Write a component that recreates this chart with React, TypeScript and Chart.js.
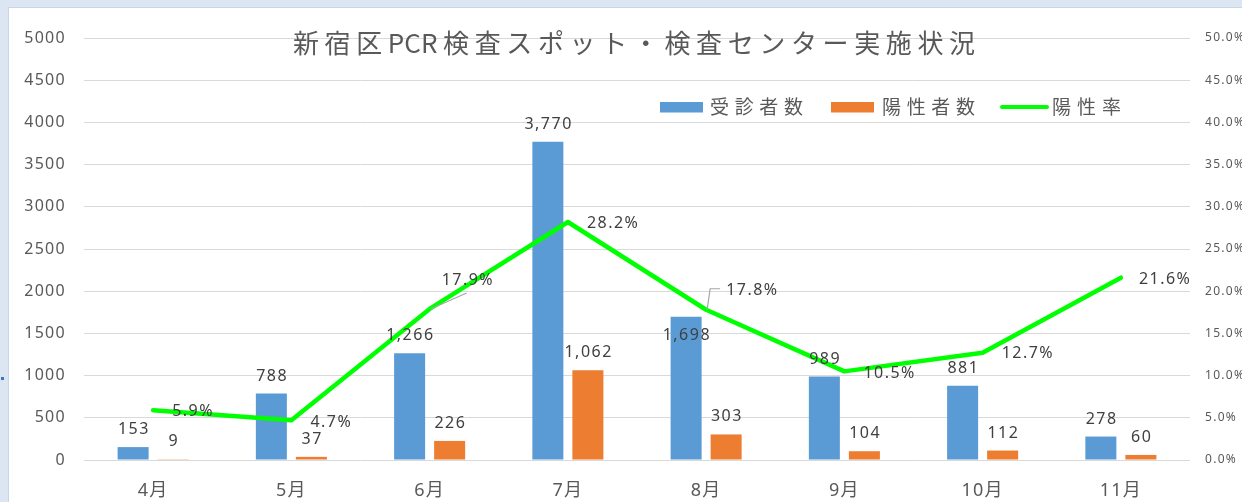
import React, { useEffect, useRef } from "react";
import { Chart, registerables } from "chart.js";

Chart.register(...registerables);

// ---- data ----
const months = ["4月", "5月", "6月", "7月", "8月", "9月", "10月", "11月"];
const examinees = [153, 788, 1266, 3770, 1698, 989, 881, 278];
const positives = [9, 37, 226, 1062, 303, 104, 112, 60];
const positiveRate = [5.9, 4.7, 17.9, 28.2, 17.8, 10.5, 12.7, 21.6];
const seriesNames = ["受診者数", "陽性者数", "陽性率"];
const chartTitle = "新宿区PCR検査スポット・検査センター実施状況";
const countAxisMax = 5000;
const countAxisStep = 500;
const rateAxisMax = 50;
const rateAxisStep = 5;

// ---- label layout (styles, not data) ----
const rateLabelOffsets: [number, number][] = [
  [19, 1], [19, 2], [12, -28], [19, 1], [20, -19], [19, 2], [19, 1], [18, 2],
];
const barLabelInside = [4]; // 1,698 label sits on the bar
const BLUE = "#5b9bd5";
const ORANGE = "#ed7d31";
const GREEN = "#00ff00";
const TEXT = "#595959";
const LABEL = "#404040";
const FONT = '"Noto Sans", "Noto Sans CJK JP", sans-serif';
const CJK = '"Noto Sans CJK JP", "Noto Sans", sans-serif';

const isLatin = (c: string) => /[A-Za-z0-9]/.test(c);

function drawSpaced(ctx: CanvasRenderingContext2D, text: string, x: number, y: number, width: number, font: string, color: string) {
  ctx.save();
  ctx.font = font;
  ctx.fillStyle = color;
  ctx.textAlign = "left";
  ctx.textBaseline = "middle";
  const chars = Array.from(text);
  const widths = chars.map((c) => ctx.measureText(c).width);
  const total = widths.reduce((a, b) => a + b, 0);
  // spacing only between pairs that are not both Latin
  const gaps = chars.map((c, i) => (i < chars.length - 1 && !(isLatin(c) && isLatin(chars[i + 1])) ? 1 : 0));
  const nGaps = gaps.reduce((a: number, b: number) => a + b, 0);
  const s = nGaps > 0 ? (width - total) / nGaps : 0;
  let cx = x;
  chars.forEach((c, i) => {
    ctx.fillText(c, cx, y);
    cx += widths[i] + s * gaps[i];
  });
  ctx.restore();
}

const axisSpacingPlugin = {
  id: "axisSpacing",
  beforeDraw(chart: any) {
    (chart.ctx as any).letterSpacing = "1.3px";
  },
};

const valueLabelPlugin = {
  id: "valueLabels",
  afterDatasetsDraw(chart: any) {
    const ctx: CanvasRenderingContext2D = chart.ctx;
    ctx.save();
    (ctx as any).letterSpacing = "1.5px";
    ctx.font = `16px ${FONT}`;
    ctx.fillStyle = LABEL;
    ctx.textAlign = "center";
    ctx.textBaseline = "middle";
    [0, 1].forEach((di) => {
      const meta = chart.getDatasetMeta(di);
      const data = chart.data.datasets[di].data as number[];
      meta.data.forEach((bar: any, i: number) => {
        const off = di === 0 && barLabelInside.includes(i) ? 19 : -17.5;
        ctx.fillText(data[i].toLocaleString("en-US"), bar.x + 0.75, bar.y + off);
      });
    });
    const lineMeta = chart.getDatasetMeta(2);
    const rates = chart.data.datasets[2].data as number[];
    ctx.textAlign = "left";
    ctx.strokeStyle = "#a6a6a6";
    ctx.lineWidth = 1.2;
    lineMeta.data.forEach((pt: any, i: number) => {
      const [dx, dy] = rateLabelOffsets[i];
      if (i === 2) {
        ctx.beginPath();
        ctx.moveTo(pt.x + 1, pt.y);
        ctx.lineTo(pt.x + 37, pt.y - 16);
        ctx.stroke();
      }
      if (i === 4) {
        ctx.beginPath();
        ctx.moveTo(pt.x + 1, pt.y);
        ctx.lineTo(pt.x + 4, pt.y - 21);
        ctx.lineTo(pt.x + 14, pt.y - 21);
        ctx.stroke();
      }
      ctx.fillText(rates[i].toFixed(1) + "%", pt.x + dx, pt.y + dy);
    });
    ctx.restore();
  },
};

const titleLegendPlugin = {
  id: "titleLegend",
  afterDraw(chart: any) {
    const ctx: CanvasRenderingContext2D = chart.ctx;
    (ctx as any).letterSpacing = "0px";
    drawSpaced(ctx, chartTitle, 284, 35, 682, `26px ${CJK}`, TEXT);
    const cy = 99;
    ctx.save();
    ctx.fillStyle = BLUE;
    ctx.fillRect(651, cy - 5, 43, 10.5);
    ctx.fillStyle = ORANGE;
    ctx.fillRect(822, cy - 5, 43, 10.5);
    ctx.strokeStyle = GREEN;
    ctx.lineWidth = 4;
    ctx.lineCap = "round";
    ctx.beginPath();
    ctx.moveTo(993, cy);
    ctx.lineTo(1038, cy);
    ctx.stroke();
    ctx.restore();
    drawSpaced(ctx, seriesNames[0], 701, cy, 93, `19px ${CJK}`, TEXT);
    drawSpaced(ctx, seriesNames[1], 873, cy, 93, `19px ${CJK}`, TEXT);
    drawSpaced(ctx, seriesNames[2], 1043, cy, 69, `19px ${CJK}`, TEXT);
  },
};

export default function App() {
  const ref = useRef<HTMLCanvasElement | null>(null);

  useEffect(() => {
    if (!ref.current) return;
    const chart = new Chart(ref.current, {
      type: "bar",
      data: {
        labels: months,
        datasets: [
          {
            type: "bar",
            label: seriesNames[0],
            data: examinees,
            backgroundColor: BLUE,
            yAxisID: "y",
            order: 1,
            categoryPercentage: 0.579,
            barPercentage: 0.775,
          },
          {
            type: "bar",
            label: seriesNames[1],
            data: positives,
            backgroundColor: ORANGE,
            yAxisID: "y",
            order: 1,
            categoryPercentage: 0.579,
            barPercentage: 0.775,
          },
          {
            type: "line",
            label: seriesNames[2],
            data: positiveRate,
            borderColor: GREEN,
            backgroundColor: GREEN,
            borderWidth: 4.5,
            borderJoinStyle: "round",
            borderCapStyle: "round",
            pointRadius: 0,
            tension: 0,
            yAxisID: "y1",
            order: 0,
          } as any,
        ],
      },
      options: {
        responsive: false,
        maintainAspectRatio: false,
        devicePixelRatio: 1,
        animation: false,
        layout: { padding: { top: 30, left: 0, right: 0, bottom: 0 } },
        plugins: {
          legend: { display: false },
          title: { display: false },
          tooltip: { enabled: false },
        },
        scales: {
          x: {
            grid: { display: false, drawTicks: false },
            border: { display: false },
            ticks: { color: TEXT, font: { size: 18, family: FONT }, padding: 20 },
            afterFit: (s: any) => { s.height = 42; },
          },
          y: {
            position: "left",
            min: 0,
            max: countAxisMax,
            ticks: {
              stepSize: countAxisStep,
              color: TEXT,
              font: { size: 16, family: FONT },
              padding: 18,
              callback: (v: any) => String(v),
            },
            grid: { color: "#d9d9d9", lineWidth: 1, drawTicks: false },
            border: { display: false },
            afterFit: (s: any) => { s.width = 75; },
          },
          y1: {
            position: "right",
            min: 0,
            max: rateAxisMax,
            ticks: {
              stepSize: rateAxisStep,
              color: TEXT,
              font: { size: 12, family: FONT },
              padding: 15,
              callback: (v: any) => Number(v).toFixed(1) + "%",
            },
            grid: { display: false, drawTicks: false },
            border: { display: false },
            afterFit: (s: any) => { s.width = 52; },
          },
        },
      } as any,
      plugins: [axisSpacingPlugin, valueLabelPlugin, titleLegendPlugin],
    });
    return () => chart.destroy();
  }, []);

  return (
    <div style={{ position: "absolute", left: 0, top: 0, width: 1242, height: 502, background: "#dce6f2", overflow: "hidden" }}>
      <div style={{ position: "absolute", left: 1, top: 377, width: 3, height: 3, background: "#4472c4" }} />
      <div style={{ position: "absolute", left: 8, top: 7, borderLeft: "1px solid #c9d5e4", borderTop: "1px solid #c9d5e4", background: "#fff" }}>
        <canvas ref={ref} width={1233} height={494} style={{ display: "block", width: 1233, height: 494 }} />
      </div>
    </div>
  );
}
